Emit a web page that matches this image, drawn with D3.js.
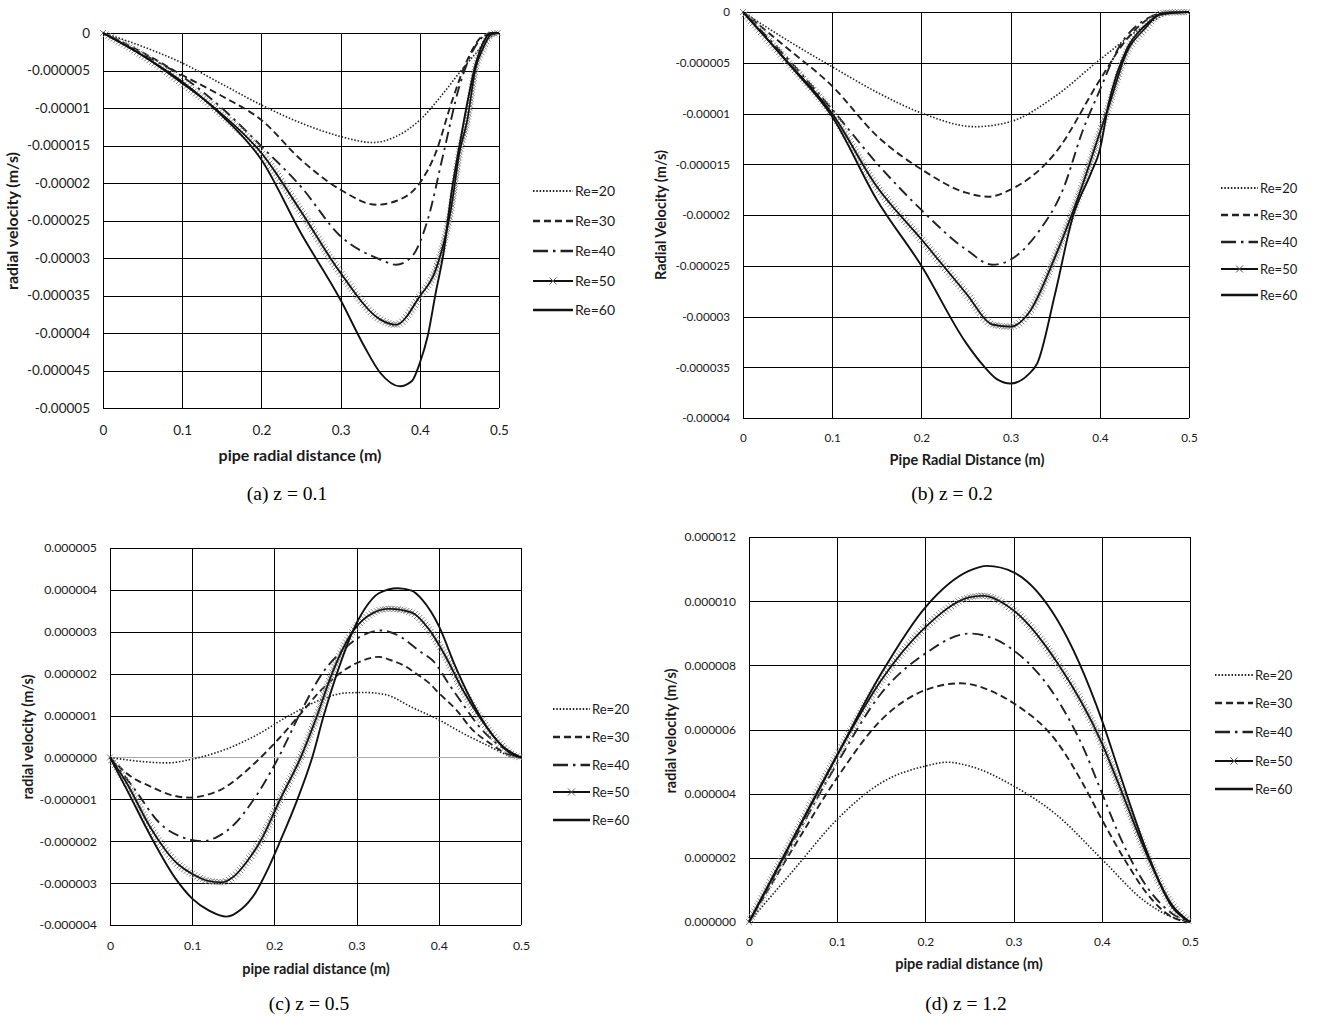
<!DOCTYPE html>
<html><head><meta charset="utf-8">
<script src="https://cdn.jsdelivr.net/npm/d3@7"></script>
<style>body{margin:0;background:#fff}svg{display:block}</style>
</head><body>
<svg id="chart" width="1319" height="1019"></svg>
<script>
// ---------- DATA (x in m, y in 1e-6 m/s) ----------
const xTicks = [0, 0.1, 0.2, 0.3, 0.4, 0.5];
const xTickLabels = ["0", "0.1", "0.2", "0.3", "0.4", "0.5"];
const seriesNames = ["Re=20", "Re=30", "Re=40", "Re=50", "Re=60"];
const captions = ["(a) z = 0.1", "(b) z = 0.2", "(c) z = 0.5", "(d) z = 1.2"];

// panel (a)
const aYTicks = [0, -5, -10, -15, -20, -25, -30, -35, -40, -45, -50];
const aYTickLabels = ["0", "-0.000005", "-0.00001", "-0.000015", "-0.00002", "-0.000025", "-0.00003", "-0.000035", "-0.00004", "-0.000045", "-0.00005"];
const a_Re20 = [[0,0],[0.05,-1.8],[0.1,-4.0],[0.15,-6.8],[0.2,-9.6],[0.25,-12.0],[0.3,-13.8],[0.34,-14.6],[0.37,-13.8],[0.4,-11.6],[0.43,-8.0],[0.45,-5.3],[0.47,-2.8],[0.49,-0.5],[0.5,0]];
const a_Re30 = [[0,0],[0.05,-2.6],[0.1,-5.6],[0.15,-8.4],[0.2,-11.6],[0.25,-16.9],[0.3,-20.9],[0.345,-22.9],[0.37,-22.4],[0.4,-20.0],[0.42,-16.0],[0.44,-9.3],[0.46,-3.6],[0.48,-0.4],[0.5,0]];
const a_Re40 = [[0,0],[0.05,-2.8],[0.1,-5.8],[0.15,-10.0],[0.2,-15.1],[0.25,-20.5],[0.3,-27.1],[0.35,-30.2],[0.37,-30.9],[0.39,-29.8],[0.41,-24.9],[0.43,-16.0],[0.45,-7.1],[0.47,-1.8],[0.49,0],[0.5,0]];
const a_Re50 = [[0,0],[0.05,-3.0],[0.1,-6.7],[0.15,-10.8],[0.2,-16.0],[0.25,-23.8],[0.3,-32.0],[0.35,-38.2],[0.37,-38.9],[0.4,-35.1],[0.42,-31.6],[0.44,-23.1],[0.45,-16.0],[0.46,-11.6],[0.47,-4.9],[0.48,-2.0],[0.49,-0.2],[0.5,0]];
const a_Re60 = [[0,0],[0.05,-3.0],[0.1,-6.5],[0.15,-11.0],[0.2,-16.9],[0.25,-26.7],[0.3,-35.6],[0.33,-41.8],[0.35,-45.3],[0.375,-47.1],[0.39,-46.4],[0.4,-44.0],[0.41,-40.4],[0.42,-34.7],[0.43,-29.3],[0.44,-21.3],[0.45,-15.1],[0.46,-9.3],[0.47,-4.4],[0.48,-1.3],[0.49,0],[0.5,0]];

// panel (b)
const bYTicks = [0, -5, -10, -15, -20, -25, -30, -35, -40];
const bYTickLabels = ["0", "-0.000005", "-0.00001", "-0.000015", "-0.00002", "-0.000025", "-0.00003", "-0.000035", "-0.00004"];
const b_Re20 = [[0,0],[0.05,-2.8],[0.1,-5.4],[0.15,-7.9],[0.2,-9.95],[0.26,-11.3],[0.3,-10.8],[0.35,-8.3],[0.4,-4.7],[0.45,-1.4],[0.48,-0.1],[0.5,0]];
const b_Re30 = [[0,0],[0.05,-3.6],[0.1,-7.3],[0.15,-12.2],[0.2,-15.5],[0.25,-17.8],[0.275,-18.2],[0.3,-17.5],[0.35,-13.9],[0.4,-6.7],[0.43,-2.7],[0.46,-0.4],[0.48,0],[0.5,0]];
const b_Re40 = [[0,0],[0.05,-4.6],[0.1,-9.6],[0.15,-14.9],[0.2,-19.5],[0.25,-23.4],[0.28,-24.9],[0.3,-24.4],[0.33,-21.8],[0.36,-17.2],[0.38,-11.9],[0.4,-7.7],[0.42,-3.7],[0.45,-0.8],[0.48,0],[0.5,0]];
const b_Re50 = [[0,0],[0.05,-4.9],[0.1,-10.0],[0.15,-17.2],[0.2,-22.4],[0.25,-27.7],[0.28,-30.8],[0.3,-31.0],[0.32,-29.7],[0.35,-24.1],[0.38,-17.2],[0.4,-11.9],[0.41,-9.3],[0.43,-4.0],[0.45,-1.7],[0.47,-0.1],[0.5,0]];
const b_Re60 = [[0,0],[0.05,-5.0],[0.1,-10.3],[0.15,-18.5],[0.2,-25.0],[0.25,-32.6],[0.27,-34.9],[0.285,-36.2],[0.3,-36.6],[0.32,-35.7],[0.33,-34.6],[0.35,-27.7],[0.37,-20.1],[0.39,-15.9],[0.4,-13.6],[0.41,-9.0],[0.43,-3.7],[0.45,-1.4],[0.47,-0.2],[0.5,0]];

// panel (c)
const cYTicks = [5, 4, 3, 2, 1, 0, -1, -2, -3, -4];
const cYTickLabels = ["0.000005", "0.000004", "0.000003", "0.000002", "0.000001", "0.000000", "-0.000001", "-0.000002", "-0.000003", "-0.000004"];
const c_Re20 = [[0,0],[0.03,-0.08],[0.07,-0.13],[0.1,-0.04],[0.136,0.16],[0.177,0.52],[0.218,1.0],[0.258,1.39],[0.287,1.54],[0.31,1.55],[0.335,1.5],[0.367,1.2],[0.4,0.9],[0.429,0.58],[0.458,0.3],[0.49,0.02],[0.5,0]];
const c_Re30 = [[0,0],[0.025,-0.45],[0.05,-0.7],[0.075,-0.9],[0.097,-0.96],[0.12,-0.88],[0.136,-0.76],[0.155,-0.5],[0.177,-0.12],[0.205,0.44],[0.23,1.0],[0.258,1.63],[0.287,2.11],[0.307,2.31],[0.327,2.4],[0.342,2.32],[0.359,2.18],[0.371,2.02],[0.388,1.78],[0.4,1.54],[0.421,1.14],[0.441,0.66],[0.462,0.34],[0.486,0.06],[0.5,0]];
const c_Re40 = [[0,0],[0.03,-0.76],[0.06,-1.56],[0.09,-1.92],[0.112,-2.0],[0.13,-1.9],[0.15,-1.62],[0.175,-1.0],[0.205,0],[0.23,1.0],[0.258,2.0],[0.28,2.5],[0.3,2.83],[0.33,3.03],[0.35,2.92],[0.375,2.56],[0.396,2.24],[0.412,1.76],[0.429,1.28],[0.449,0.74],[0.47,0.34],[0.49,0.1],[0.5,0]];
const c_Re50 = [[0,0],[0.02,-0.6],[0.05,-1.7],[0.08,-2.5],[0.1,-2.78],[0.12,-2.95],[0.136,-2.98],[0.15,-2.85],[0.166,-2.5],[0.183,-2.0],[0.207,-1.0],[0.232,0],[0.252,1.0],[0.27,2.0],[0.295,3.0],[0.32,3.45],[0.34,3.55],[0.367,3.46],[0.388,3.06],[0.408,2.42],[0.429,1.62],[0.449,0.98],[0.47,0.42],[0.49,0.06],[0.5,0]];
const c_Re60 = [[0,0],[0.02,-0.75],[0.05,-1.9],[0.08,-2.9],[0.1,-3.37],[0.12,-3.65],[0.142,-3.8],[0.16,-3.62],[0.177,-3.23],[0.19,-2.75],[0.207,-2.0],[0.228,-1.0],[0.246,0],[0.26,1.0],[0.276,2.0],[0.295,3.0],[0.31,3.55],[0.327,3.92],[0.35,4.04],[0.367,3.98],[0.38,3.76],[0.4,3.14],[0.42,2.18],[0.437,1.46],[0.458,0.74],[0.478,0.26],[0.5,0]];

// panel (d)
const dYTicks = [12, 10, 8, 6, 4, 2, 0];
const dYTickLabels = ["0.000012", "0.000010", "0.000008", "0.000006", "0.000004", "0.000002", "0.000000"];
const d_Re20 = [[0,0],[0.05,1.6],[0.1,3.2],[0.15,4.34],[0.2,4.86],[0.225,4.98],[0.25,4.86],[0.3,4.24],[0.35,3.31],[0.4,1.96],[0.45,0.62],[0.48,0.15],[0.5,0]];
const d_Re30 = [[0,0],[0.05,2.3],[0.1,4.5],[0.15,6.3],[0.2,7.23],[0.24,7.44],[0.28,7.13],[0.3,6.82],[0.35,5.58],[0.38,4.24],[0.4,3.2],[0.43,1.76],[0.45,0.93],[0.48,0.15],[0.5,0]];
const d_Re40 = [[0,0],[0.05,2.5],[0.1,4.95],[0.15,7.13],[0.2,8.37],[0.25,8.99],[0.3,8.47],[0.35,6.92],[0.38,5.37],[0.4,4.03],[0.42,2.69],[0.45,1.14],[0.48,0.26],[0.5,0]];
const d_Re50 = [[0,0],[0.05,2.6],[0.1,5.2],[0.15,7.54],[0.2,9.19],[0.25,10.12],[0.265,10.17],[0.3,9.71],[0.35,8.06],[0.4,5.58],[0.42,4.24],[0.45,2.17],[0.48,0.52],[0.5,0]];
const d_Re60 = [[0,0],[0.05,2.6],[0.1,5.2],[0.15,7.75],[0.2,9.81],[0.25,10.95],[0.27,11.1],[0.3,10.9],[0.35,9.4],[0.4,6.3],[0.42,4.65],[0.45,2.27],[0.48,0.46],[0.5,0]];

// ---------- LAYOUT ----------
const panels = [
  {series:[a_Re20,a_Re30,a_Re40,a_Re50,a_Re60], yTicks:aYTicks, yLabels:aYTickLabels,
   x0:103, x1:499, yT:33, yB:408, tickFs:13.5, xLabY:431, xTitle:"pipe radial distance (m)", xTitleX:300, xTitleY:461, titleFs:16,
   yTitle:"radial velocity (m/s)", yTitleX:12, yTitleY:221, legX0:533, legX1:573, legY:[191,221,251,281,310], legFs:14,
   capX:287, capY:500, zeroGray:false},
  {series:[b_Re20,b_Re30,b_Re40,b_Re50,b_Re60], yTicks:bYTicks, yLabels:bYTickLabels,
   x0:743, x1:1189, yT:12, yB:418, tickFs:11.7, xLabY:438, xTitle:"Pipe Radial Distance (m)", xTitleX:967, xTitleY:465, titleFs:14.5,
   yTitle:"Radial Velocity (m/s)", yTitleX:661, yTitleY:215, legX0:1221, legX1:1258, legY:[188,215,242,269,295], legFs:13,
   capX:952, capY:500, zeroGray:false},
  {series:[c_Re20,c_Re30,c_Re40,c_Re50,c_Re60], yTicks:cYTicks, yLabels:cYTickLabels,
   x0:110, x1:521, yT:548, yB:925, tickFs:12.3, xLabY:946, xTitle:"pipe radial distance (m)", xTitleX:316, xTitleY:974, titleFs:14.5,
   yTitle:"radial velocity (m/s)", yTitleX:28, yTitleY:737, legX0:553, legX1:590, legY:[709,737,765,792,820], legFs:13,
   capX:309, capY:1010, zeroGray:true},
  {series:[d_Re20,d_Re30,d_Re40,d_Re50,d_Re60], yTicks:dYTicks, yLabels:dYTickLabels,
   x0:749, x1:1190, yT:537, yB:922, tickFs:12, xLabY:942, xTitle:"pipe radial distance (m)", xTitleX:969, xTitleY:969, titleFs:14.5,
   yTitle:"radial velocity (m/s)", yTitleX:671, yTitleY:731, legX0:1215, legX1:1253, legY:[675,703,732,761,789], legFs:13,
   capX:966, capY:1010, zeroGray:false}
];

const styles = [
  {dash:"1.5,1.8", w:1.6, color:"#222"},
  {dash:"7,4", w:1.9, color:"#222"},
  {dash:"11,5,2.5,5", w:1.9, color:"#222"},
  {dash:null, w:1.6, color:"#111", markers:true},
  {dash:null, w:1.9, color:"#111"}
];

const svg = d3.select("#chart");
const FONT = "Lato, 'Open Sans', sans-serif";

panels.forEach((p, pi) => {
  const x = d3.scaleLinear().domain([0, 0.5]).range([p.x0, p.x1]);
  const yDom = d3.extent(p.yTicks);
  const y = d3.scaleLinear().domain([yDom[1], yDom[0]]).range([p.yT, p.yB]);
  const g = svg.append("g");

  // gridlines via axes
  const gx = g.append("g").attr("transform", `translate(0,${p.yB})`)
    .call(d3.axisBottom(x).tickValues(xTicks).tickSize(-(p.yB - p.yT)).tickFormat(""));
  gx.select(".domain").remove();
  gx.selectAll("line").attr("stroke", "#000").attr("stroke-width", 1).attr("shape-rendering", "crispEdges");
  const gy = g.append("g").attr("transform", `translate(${p.x0},0)`)
    .call(d3.axisLeft(y).tickValues(p.yTicks).tickSize(-(p.x1 - p.x0)).tickFormat(""));
  gy.select(".domain").remove();
  gy.selectAll("line").attr("stroke", d => (p.zeroGray && d === 0) ? "#aaa" : "#000")
    .attr("stroke-width", 1).attr("shape-rendering", "crispEdges");

  // tick labels
  const labX = g.append("g").attr("transform", `translate(0,${p.xLabY})`)
    .call(d3.axisBottom(x).tickValues(xTicks).tickSize(0).tickPadding(0).tickFormat((d, i) => xTickLabels[i]));
  labX.select(".domain").remove();
  labX.selectAll("text").attr("font-family", FONT).attr("font-size", p.tickFs).attr("fill", "#1a1a1a").attr("dy", "0.32em");
  const labY = g.append("g").attr("transform", `translate(${p.x0 - 13},0)`)
    .call(d3.axisLeft(y).tickValues(p.yTicks).tickSize(0).tickPadding(0).tickFormat((d, i) => p.yLabels[i]));
  labY.select(".domain").remove();
  labY.selectAll("text").attr("font-family", FONT).attr("font-size", p.tickFs).attr("fill", "#1a1a1a");

  // axis titles
  g.append("text").attr("x", p.xTitleX).attr("y", p.xTitleY).attr("text-anchor", "middle")
    .attr("font-family", FONT).attr("font-weight", "bold").attr("font-size", p.titleFs).attr("fill", "#1a1a1a")
    .text(p.xTitle);
  g.append("text").attr("transform", `translate(${p.yTitleX},${p.yTitleY}) rotate(-90)`)
    .attr("text-anchor", "middle").attr("dy", "0.35em")
    .attr("font-family", FONT).attr("font-weight", "bold").attr("font-size", p.titleFs).attr("fill", "#1a1a1a")
    .text(p.yTitle);

  // series
  const line = d3.line().x(d => x(d[0])).y(d => y(d[1])).curve(d3.curveMonotoneX);
  p.series.forEach((data, si) => {
    const st = styles[si];
    const path = g.append("path").datum(data).attr("d", line).attr("fill", "none")
      .attr("stroke", st.color).attr("stroke-width", st.w).attr("stroke-linejoin", "round");
    if (st.dash) path.attr("stroke-dasharray", st.dash);
    if (st.markers) {
      const node = path.node();
      const L = node.getTotalLength();
      const pts = [];
      for (let l = 0; l <= L; l += 3) pts.push(node.getPointAtLength(l));
      const m = g.append("g").attr("stroke", "#808080").attr("stroke-width", 1);
      const s = 3;
      pts.forEach(pt => {
        m.append("path").attr("d", `M${pt.x - s},${pt.y - s}L${pt.x + s},${pt.y + s}M${pt.x - s},${pt.y + s}L${pt.x + s},${pt.y - s}`);
      });
      g.node().appendChild(node); // keep line on top of markers
    }
  });

  // legend
  seriesNames.forEach((name, si) => {
    const st = styles[si];
    const ly = p.legY[si];
    const l = g.append("line").attr("x1", p.legX0).attr("x2", p.legX1).attr("y1", ly).attr("y2", ly)
      .attr("stroke", st.color).attr("stroke-width", st.w + 0.5);
    if (st.dash) l.attr("stroke-dasharray", si === 2 ? "15,5,2.5,5" : st.dash);
    if (st.markers) {
      const cx = (p.legX0 + p.legX1) / 2, s = 3.5;
      g.append("path").attr("d", `M${cx - s},${ly - s}L${cx + s},${ly + s}M${cx - s},${ly + s}L${cx + s},${ly - s}`)
        .attr("stroke", "#555").attr("stroke-width", 1);
    }
    g.append("text").attr("x", p.legX1 + 2).attr("y", ly).attr("dy", "0.35em")
      .attr("font-family", FONT).attr("font-size", p.legFs).attr("fill", "#1a1a1a").text(name);
  });

  // caption
  svg.append("text").attr("x", p.capX).attr("y", p.capY).attr("text-anchor", "middle")
    .attr("font-family", "'Liberation Serif', 'Times New Roman', serif").attr("font-size", 19.5).attr("fill", "#000")
    .text(captions[pi]);
});
</script>
</body></html>
